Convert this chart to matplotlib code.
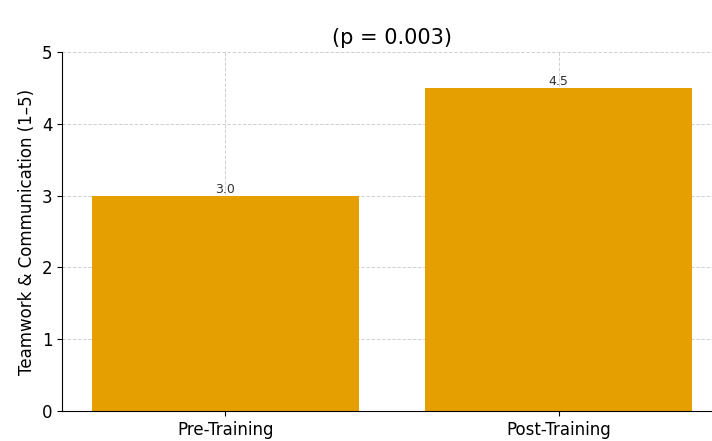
import matplotlib.pyplot as plt

# Teamwork & communication ratings before and after training
phases = ["Pre-Training", "Post-Training"]
scores = [3.0, 4.5]
p_value = 0.003

fig = plt.figure(figsize=(7.12, 4.41), dpi=100)
ax = fig.add_axes([62 / 712, 30 / 441, 660 / 712, 359 / 441])

bars = ax.bar(phases, scores, color="#E69F00", width=0.8, zorder=2)
for bar, val in zip(bars, scores):
    ax.text(bar.get_x() + bar.get_width() / 2, val, f"{val:.1f}",
            ha="center", va="bottom", fontsize=9, color="#333333")

ax.set_ylim(0, 5)
ax.set_xlim(-0.49, 1.49)
ax.set_ylabel("Teamwork & Communication (1\u20135)", fontsize=12)
ax.set_title(f"(p = {p_value})", fontsize=15, pad=6)
ax.tick_params(axis="both", labelsize=12)
ax.grid(True, linestyle="--", color="#d0d0d0", linewidth=0.7, zorder=0)
ax.spines["top"].set_visible(False)
ax.spines["right"].set_visible(False)

fig.savefig("out.png", dpi=100)
